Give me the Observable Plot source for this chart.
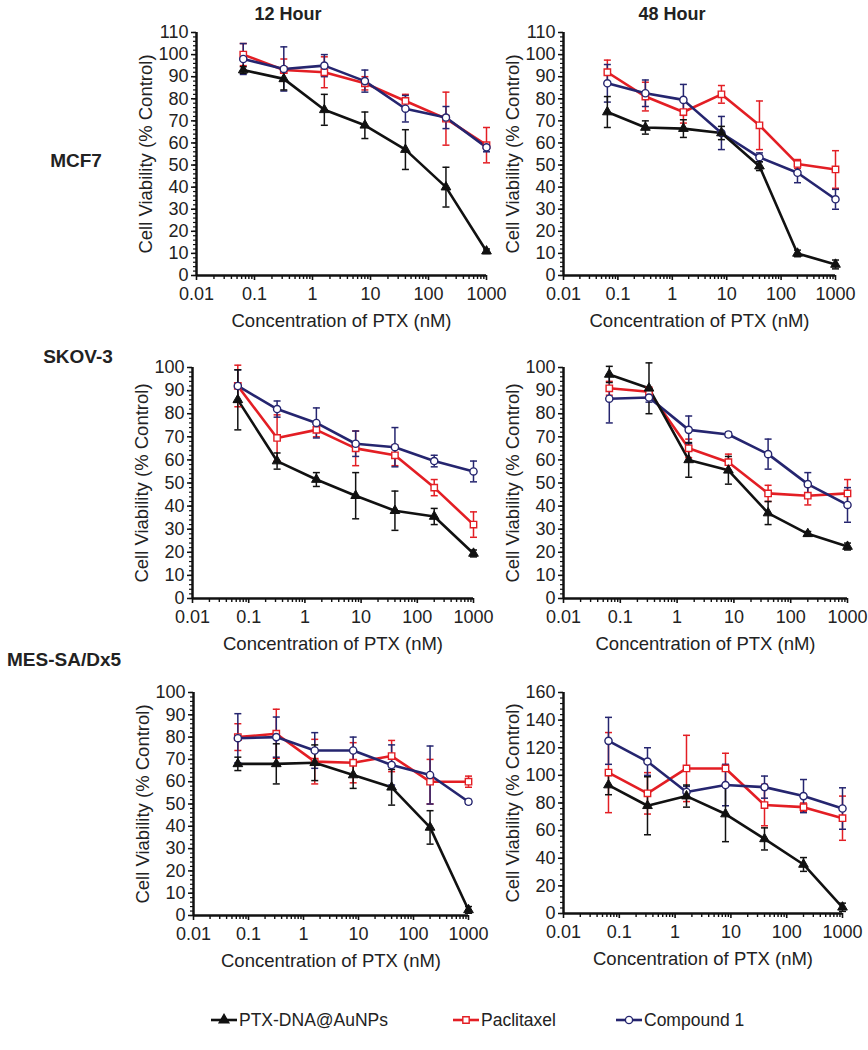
<!DOCTYPE html>
<html><head><meta charset="utf-8">
<script src="https://cdn.jsdelivr.net/npm/d3@7"></script>
<script src="https://cdn.jsdelivr.net/npm/@observablehq/plot@0.6"></script>
<style>
body{margin:0;background:#fff;font-family:"Liberation Sans",Arial,sans-serif;}
#root{position:relative;width:868px;height:1050px;overflow:hidden;}
.panel{position:absolute;}
.t{position:absolute;font-weight:bold;font-size:18px;color:#222;white-space:nowrap;transform:translate(-50%,-50%);}
.rl{font-size:19px;}
.leg{position:absolute;top:1010px;height:20px;display:flex;align-items:center;font-size:17.5px;color:#222;white-space:nowrap;}
.leg svg{margin-right:2px;}
</style></head><body><div id="root"></div>
<script>
// ---------- categories / labels ----------
const conc = [0.064, 0.32, 1.6, 8, 40, 200, 1000];      // PTX concentration (nM)
const seriesNames = ["PTX-DNA@AuNPs", "Paclitaxel", "Compound 1"];
const timeTitles = ["12 Hour", "48 Hour"];
const cellLines = ["MCF7", "SKOV-3", "MES-SA/Dx5"];
const xTicks = [0.01, 0.1, 1, 10, 100, 1000];
const xTickLabels = ["0.01", "0.1", "1", "10", "100", "1000"];
const xLabel = "Concentration of PTX (nM)";
const yLabel = "Cell Viability (% Control)";
const yTicks110 = [0, 10, 20, 30, 40, 50, 60, 70, 80, 90, 100, 110];
const yTicks100 = [0, 10, 20, 30, 40, 50, 60, 70, 80, 90, 100];
const yTicks160 = [0, 20, 40, 60, 80, 100, 120, 140, 160];

// ---------- values (mean, error) ----------
// MCF7, 12 h
const mcf7_12_ptx = [93, 89, 75, 68, 57, 40, 11];
const mcf7_12_ptx_err = [1.5, 5, 7, 6, 9, 9, 1];
const mcf7_12_pac = [100, 93, 92, 87, 79, 71, 59];
const mcf7_12_pac_err = [5, 5, 7, 3, 3, 12, 8];
const mcf7_12_cmp = [98, 93.5, 95, 88, 75.5, 71.5, 58];
const mcf7_12_cmp_err = [7, 10, 5, 5, 6, 5, 2];
// MCF7, 48 h
const mcf7_48_ptx = [74, 67, 66.5, 64.5, 49.5, 10, 5];
const mcf7_48_ptx_err = [7, 3, 4, 3, 2, 1.5, 2];
const mcf7_48_pac = [92, 81, 74, 82, 68, 50.5, 48];
const mcf7_48_pac_err = [5.5, 6.5, 5, 4, 11, 2, 8.5];
const mcf7_48_cmp = [87, 82.5, 79.5, 64.5, 53.5, 46.5, 34.5];
const mcf7_48_cmp_err = [8.5, 6, 7, 7.5, 2, 4.5, 4.5];
// SKOV-3, 12 h
const skov_12_ptx = [86, 59.5, 51.5, 44.5, 38, 35.5, 19.5];
const skov_12_ptx_err = [13, 3.5, 3, 10, 8.5, 3.5, 1.5];
const skov_12_pac = [92, 69.5, 73, 65, 62, 48, 32];
const skov_12_pac_err = [9, 10, 3, 7.5, 4.5, 3.5, 5.5];
const skov_12_cmp = [92, 82, 76, 67, 65.5, 59.5, 55];
const skov_12_cmp_err = [7, 3.5, 6.5, 5.5, 8.5, 2.5, 4.5];
// SKOV-3, 48 h
const skov_48_ptx = [97, 91, 60, 55.5, 37, 28, 22.5];
const skov_48_ptx_err = [3.5, 11, 7.5, 6, 5, 1, 1.5];
const skov_48_pac = [91, 89.5, 65, 59, 45.5, 44.5, 45.5];
const skov_48_pac_err = [3, 2, 4, 3.5, 3.5, 4, 6];
const skov_48_cmp = [86.5, 87, 73, 71, 62.5, 49.5, 40.5];
const skov_48_cmp_err = [10.5, 2, 6, 1, 6.5, 5, 7.5];
// MES-SA/Dx5, 12 h
const mes_12_ptx = [68, 68, 68.5, 63, 57.5, 39.5, 2.5];
const mes_12_ptx_err = [3, 9, 8, 6, 8, 7.5, 1.5];
const mes_12_pac = [80, 81.5, 69, 68.5, 71.5, 60, 60];
const mes_12_pac_err = [6, 11, 10, 9, 7, 10, 2.5];
const mes_12_cmp = [79.5, 80, 74, 74, 67.5, 63, 51];
const mes_12_cmp_err = [11, 9, 8, 6, 9, 13, 1];
// MES-SA/Dx5, 48 h
const mes_48_ptx = [93, 78, 85, 72, 54, 35.5, 4.5];
const mes_48_ptx_err = [7, 21, 8, 20, 8, 5, 3];
const mes_48_pac = [102, 87, 105, 105, 78.5, 77, 69];
const mes_48_pac_err = [29, 15, 24, 11, 15, 3, 16];
const mes_48_cmp = [125, 110, 88, 93, 91.5, 85, 76];
const mes_48_cmp_err = [17, 10, 4, 15, 8, 12, 15];

// ---------- styling ----------
const colors = ["#111111", "#e31e24", "#25256f"];
const font = "'Liberation Sans', Arial, sans-serif";
const capSymbol = {draw(ctx, size) { const w = Math.sqrt(size / Math.PI); ctx.moveTo(-w, 0); ctx.lineTo(w, 0); }};

const panels = [
  {yTicks: yTicks110, minor: 2, frame: [196, 486, 32, 275],
   s: [[mcf7_12_ptx, mcf7_12_ptx_err], [mcf7_12_pac, mcf7_12_pac_err], [mcf7_12_cmp, mcf7_12_cmp_err]]},
  {yTicks: yTicks110, minor: 2, frame: [563, 835, 32, 275],
   s: [[mcf7_48_ptx, mcf7_48_ptx_err], [mcf7_48_pac, mcf7_48_pac_err], [mcf7_48_cmp, mcf7_48_cmp_err]]},
  {yTicks: yTicks100, minor: 2, frame: [192, 473, 367, 598],
   s: [[skov_12_ptx, skov_12_ptx_err], [skov_12_pac, skov_12_pac_err], [skov_12_cmp, skov_12_cmp_err]]},
  {yTicks: yTicks100, minor: 2, frame: [563, 847, 367, 598],
   s: [[skov_48_ptx, skov_48_ptx_err], [skov_48_pac, skov_48_pac_err], [skov_48_cmp, skov_48_cmp_err]]},
  {yTicks: yTicks100, minor: 2, frame: [193, 468, 692, 915],
   s: [[mes_12_ptx, mes_12_ptx_err], [mes_12_pac, mes_12_pac_err], [mes_12_cmp, mes_12_cmp_err]]},
  {yTicks: yTicks160, minor: 4, frame: [563, 842, 692, 913],
   s: [[mes_48_ptx, mes_48_ptx_err], [mes_48_pac, mes_48_pac_err], [mes_48_cmp, mes_48_cmp_err]]}
];

// minor log ticks
const minorX = [];
for (let d = 0.01; d < 1000; d *= 10) for (let k = 2; k <= 9; k++) minorX.push(+(d * k).toPrecision(3));

const root = document.getElementById("root");
const mL = 95, mR = 40, mT = 12, mB = 64;

for (const p of panels) {
  const [L, R, T, B] = p.frame;
  const ymax = p.yTicks[p.yTicks.length - 1];
  const minorY = d3.range(0, ymax + 0.001, p.minor);
  const rowsBySeries = p.s.map(([vals, errs], si) =>
    conc.map((c, i) => ({x: c, y: vals[i], e: errs[i], s: seriesNames[si]})));
  const marks = [
    Plot.axisX({ticks: minorX, tickSize: 4, tickFormat: () => "", stroke: "#111", strokeWidth: 1.4, label: null}),
    Plot.axisX({ticks: xTicks, tickSize: 5, tickPadding: 7,
      tickFormat: d => xTickLabels[xTicks.findIndex(t => Math.abs(t - d) < t * 1e-6)],
      fontSize: 18, stroke: "#111", strokeWidth: 1.6, label: null}),
    Plot.axisY({ticks: minorY, tickSize: 3, tickFormat: () => "", stroke: "#111", strokeWidth: 1.2, label: null}),
    Plot.axisY({ticks: p.yTicks, tickSize: 5, tickPadding: 3, fontSize: 18, stroke: "#111", strokeWidth: 1.5, label: null}),
    Plot.ruleY([0], {stroke: "#111", strokeWidth: 2.5}),
    Plot.ruleX([0.01], {stroke: "#111", strokeWidth: 2.5}),
    Plot.text([xLabel], {text: d => d, frameAnchor: "bottom", lineAnchor: "middle", textAnchor: "middle", dy: 46, fontSize: 18.5, fill: "#222"}),
    Plot.text([yLabel], {text: d => d, frameAnchor: "left", textAnchor: "middle", lineAnchor: "middle", rotate: -90, dx: -50, fontSize: 18.5, fill: "#222"})
  ];
  // lines
  for (const si of [1, 2, 0]) {
    marks.push(Plot.line(rowsBySeries[si], {x: "x", y: "y", stroke: colors[si], strokeWidth: 2.6}));
  }
  // error bars
  for (const si of [1, 2, 0]) {
    const rows = rowsBySeries[si];
    marks.push(Plot.ruleX(rows, {x: "x", y1: d => d.y - d.e, y2: d => d.y + d.e, stroke: colors[si], strokeWidth: 1.5}));
    marks.push(Plot.dot(rows, {x: "x", y: d => d.y + d.e, symbol: capSymbol, r: 3.5, stroke: colors[si], strokeWidth: 1.5}));
    marks.push(Plot.dot(rows, {x: "x", y: d => d.y - d.e, symbol: capSymbol, r: 3.5, stroke: colors[si], strokeWidth: 1.5}));
  }
  // markers
  marks.push(Plot.dot(rowsBySeries[1], {x: "x", y: "y", symbol: "square", r: 3.6, fill: "white", stroke: colors[1], strokeWidth: 1.4}));
  marks.push(Plot.dot(rowsBySeries[2], {x: "x", y: "y", symbol: "circle", r: 3.6, fill: "white", stroke: colors[2], strokeWidth: 1.4}));
  marks.push(Plot.dot(rowsBySeries[0], {x: "x", y: "y", symbol: "triangle", r: 3.6, fill: colors[0], stroke: colors[0], strokeWidth: 1}));

  const chart = Plot.plot({
    width: mL + (R - L) + mR, height: mT + (B - T) + mB,
    marginLeft: mL, marginRight: mR, marginTop: mT, marginBottom: mB,
    style: {fontFamily: font, fontSize: "18px", color: "#222", background: "transparent", overflow: "visible"},
    x: {type: "log", domain: [0.01, 1000]},
    y: {domain: [0, ymax]},
    marks
  });
  chart.classList.add("panel");
  chart.style.left = (L - mL) + "px";
  chart.style.top = (T - mT) + "px";
  root.appendChild(chart);
}

// column titles and row labels
const titlePos = [[288, 14], [672, 14]];
timeTitles.forEach((t, i) => {
  const el = document.createElement("div");
  el.className = "t"; el.textContent = t;
  el.style.left = titlePos[i][0] + "px"; el.style.top = titlePos[i][1] + "px";
  root.appendChild(el);
});
const rowPos = [[76, 161], [78, 357], [64, 660]];
cellLines.forEach((t, i) => {
  const el = document.createElement("div");
  el.className = "t rl"; el.textContent = t;
  el.style.left = rowPos[i][0] + "px"; el.style.top = rowPos[i][1] + "px";
  root.appendChild(el);
});

// legend
const legendX = [211, 453, 616];
const legendSym = [d3.symbolTriangle, d3.symbolSquare, d3.symbolCircle];
seriesNames.forEach((name, i) => {
  const item = document.createElement("div");
  item.className = "leg";
  item.style.left = legendX[i] + "px";
  const ns = "http://www.w3.org/2000/svg";
  const svg = document.createElementNS(ns, "svg");
  svg.setAttribute("width", 26); svg.setAttribute("height", 14);
  const ln = document.createElementNS(ns, "line");
  ln.setAttribute("x1", 0); ln.setAttribute("x2", 26); ln.setAttribute("y1", 7); ln.setAttribute("y2", 7);
  ln.setAttribute("stroke", colors[i]); ln.setAttribute("stroke-width", 2.6);
  svg.appendChild(ln);
  const sym = document.createElementNS(ns, "path");
  sym.setAttribute("d", d3.symbol(legendSym[i], 3.6 * 3.6 * Math.PI)());
  sym.setAttribute("transform", "translate(13,7)");
  sym.setAttribute("fill", i === 0 ? colors[0] : "white");
  sym.setAttribute("stroke", colors[i]); sym.setAttribute("stroke-width", 1.4);
  svg.appendChild(sym);
  item.appendChild(svg);
  const span = document.createElement("span");
  span.textContent = name;
  item.appendChild(span);
  root.appendChild(item);
});
</script></body></html>
